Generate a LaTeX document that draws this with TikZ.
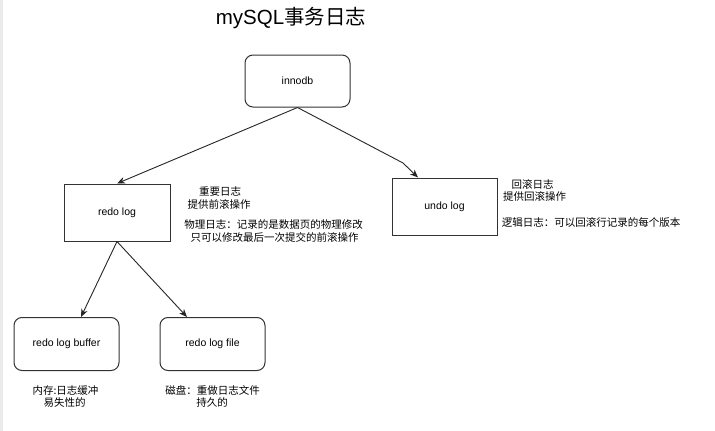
\documentclass[tikz,border=0pt]{standalone}
\usepackage{fontspec}
\setmainfont{Liberation Sans}
\newfontfamily\cjk{Noto Sans CJK SC}
\usetikzlibrary{arrows.meta}
\begin{document}
\begin{tikzpicture}[x=1pt,y=-1pt,
  base/.style={draw=black!80,line width=1pt,fill=white,font=\fontsize{10.5}{12}\selectfont,inner sep=0pt},
  rbox/.style={base,rounded corners=8pt},
  sbox/.style={base},
  conn/.style={draw=black!85,line width=0.9pt,-{Stealth[length=8pt,width=6.5pt,inset=2.5pt]}},
  note/.style={font=\fontsize{10.5}{12}\selectfont\cjk,inner sep=0pt,align=center}]
\useasboundingbox (0,0) rectangle (715,431);
\fill[white] (0,0) rectangle (715,431);
\fill[black!8] (0,0) rectangle (2.5,431);

\node[font=\fontsize{20.5}{24}\selectfont,inner sep=0pt] (title) at (291,18) {mySQL{\cjk 事务日志}};

\node[rbox,minimum width=105pt,minimum height=52pt] (innodb) at (297.5,81) {innodb};
\node[sbox,minimum width=106pt,minimum height=57pt] (redo) at (117,212.5) {redo log};
\node[sbox,minimum width=105pt,minimum height=57pt] (undo) at (444.5,206.5) {undo log};
\node[rbox,minimum width=105pt,minimum height=53pt] (buf) at (66.5,344) {redo log buffer};
\node[rbox,minimum width=105pt,minimum height=53pt] (file) at (212.5,344) {redo log file};

\coordinate (bend) at (403,163);
\draw[conn] (innodb.south) -- (redo.north);
\draw[conn] (innodb.south) -- (bend) -- (undo.north west -| 418,0) ;
\draw[conn] (redo.south) -- (buf.north -| 81,0);
\draw[conn] (redo.south) -- (file.north -| 187,0);

\node[note] (n1) at (220,192) {重要日志};
\node[note] (n2) at (219,204.5) {提供前滚操作};
\node[note] (n3) at (273.5,224.5) {物理日志：记录的是数据页的物理修改};
\node[note] (n4) at (274.5,237) {只可以修改最后一次提交的前滚操作};

\node[note] (u1) at (532.5,184.5) {回滚日志};
\node[note] (u2) at (534.5,196) {提供回滚操作};
\node[note] (u3) at (591,222.5) {逻辑日志：可以回滚行记录的每个版本};

\node[note] (b1) at (65.5,390.5) {内存:日志缓冲};
\node[note] (b2) at (64.5,402.5) {易失性的};
\node[note] (f1) at (212.5,390.5) {磁盘：重做日志文件};
\node[note] (f2) at (212,402.5) {持久的};
\end{tikzpicture}
\end{document}
